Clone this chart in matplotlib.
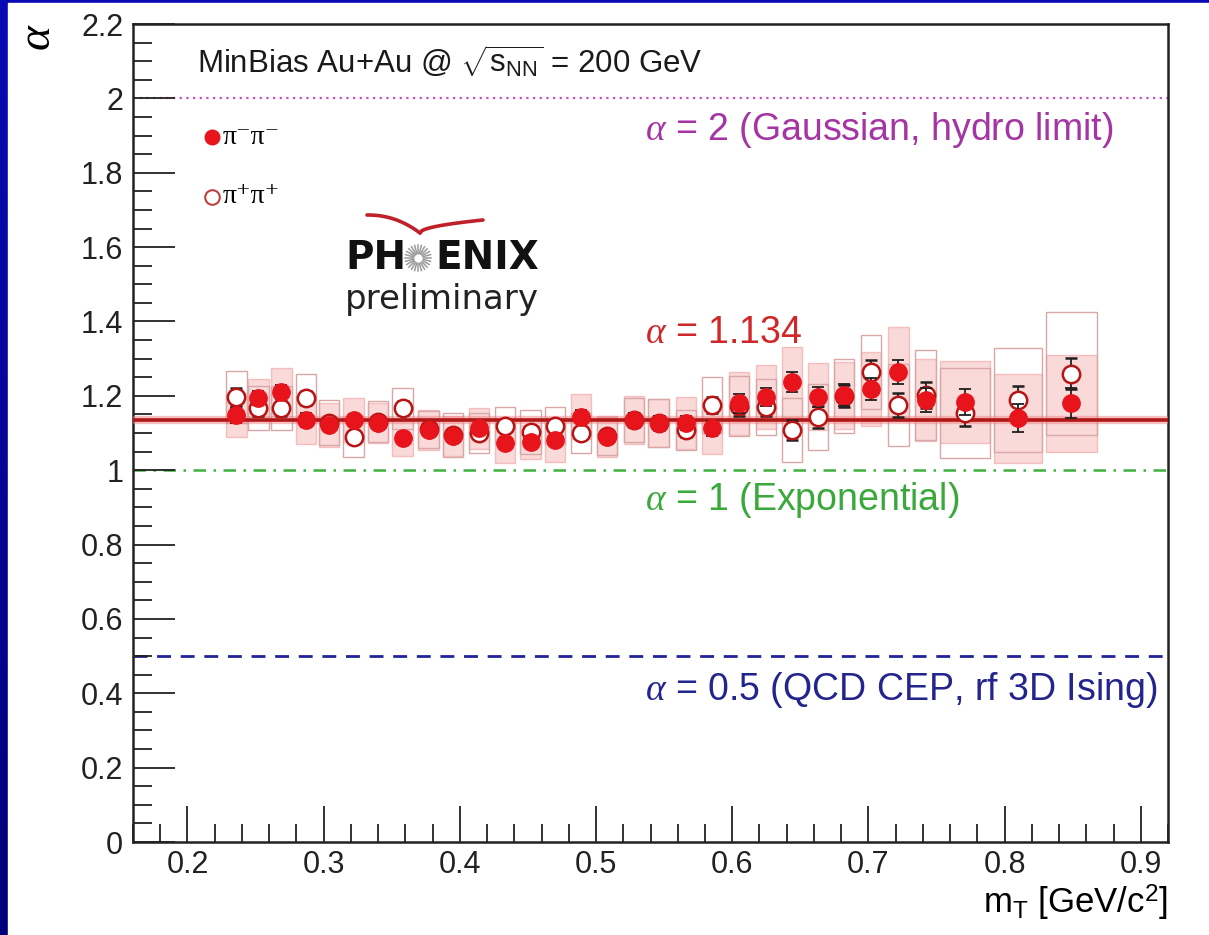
import numpy as np
import matplotlib.pyplot as plt
from matplotlib.patches import Rectangle
from matplotlib.colors import LinearSegmentedColormap
from matplotlib.ticker import MultipleLocator

# -------------------------------
# Data: Levy exponent alpha vs transverse mass
# -------------------------------
mt = [0.236, 0.252, 0.269, 0.287, 0.304, 0.322, 0.340, 0.358, 0.377, 0.395,
      0.414, 0.433, 0.452, 0.470, 0.489, 0.508, 0.528, 0.546, 0.566, 0.585,
      0.605, 0.625, 0.644, 0.663, 0.682, 0.702, 0.722, 0.742, 0.771, 0.810,
      0.849]

# pi- pi- (filled)
alpha_mm = [1.148, 1.194, 1.210, 1.135, 1.122, 1.135, 1.127, 1.087, 1.108, 1.092,
            1.113, 1.073, 1.076, 1.081, 1.144, 1.090, 1.135, 1.127, 1.127, 1.113,
            1.180, 1.197, 1.237, 1.197, 1.202, 1.218, 1.264, 1.189, 1.183, 1.140,
            1.180]
stat_mm = [0.020, 0.020, 0.018, 0.018, 0.015, 0.015, 0.015, 0.015, 0.015, 0.015,
           0.015, 0.015, 0.015, 0.015, 0.018, 0.015, 0.018, 0.018, 0.020, 0.020,
           0.025, 0.025, 0.028, 0.028, 0.030, 0.030, 0.032, 0.032, 0.035, 0.038,
           0.040]
sys_mm = [0.060, 0.050, 0.065, 0.065, 0.060, 0.060, 0.055, 0.050, 0.055, 0.055,
          0.055, 0.055, 0.045, 0.060, 0.060, 0.055, 0.065, 0.065, 0.070, 0.070,
          0.085, 0.085, 0.095, 0.090, 0.090, 0.100, 0.120, 0.110, 0.110, 0.120,
          0.130]

# pi+ pi+ (open)
alpha_pp = [1.197, 1.167, 1.167, 1.194, 1.128, 1.090, 1.130, 1.167, 1.110, 1.095,
            1.100, 1.120, 1.103, 1.120, 1.100, 1.092, 1.135, 1.127, 1.108, 1.175,
            1.172, 1.170, 1.108, 1.143, 1.200, 1.264, 1.175, 1.202, 1.154, 1.189,
            1.260]
stat_pp = [0.025, 0.020, 0.020, 0.020, 0.015, 0.015, 0.015, 0.018, 0.015, 0.015,
           0.015, 0.015, 0.015, 0.015, 0.015, 0.015, 0.018, 0.018, 0.020, 0.022,
           0.025, 0.025, 0.028, 0.030, 0.030, 0.032, 0.032, 0.035, 0.035, 0.038,
           0.043]
sys_pp = [0.070, 0.060, 0.060, 0.065, 0.060, 0.055, 0.055, 0.055, 0.050, 0.060,
          0.055, 0.050, 0.060, 0.050, 0.055, 0.050, 0.060, 0.065, 0.055, 0.075,
          0.080, 0.075, 0.085, 0.090, 0.100, 0.100, 0.110, 0.120, 0.120, 0.140,
          0.165]

# width of the systematic boxes (bin width)
box_width = [0.015] * 28 + [0.037, 0.035, 0.037]

alpha_fit = 1.134
ref_levels = [2.0, 1.0, 0.5]
ref_texts = ["= 2 (Gaussian, hydro limit)", "= 1 (Exponential)",
             "= 0.5 (QCD CEP, rf 3D Ising)"]

# -------------------------------
# Style
# -------------------------------
plt.rcParams['font.family'] = ['Liberation Sans', 'DejaVu Sans']
plt.rcParams['mathtext.fontset'] = 'custom'
plt.rcParams['mathtext.rm'] = 'Liberation Sans'
plt.rcParams['mathtext.it'] = 'Liberation Serif:italic'
plt.rcParams['mathtext.bf'] = 'Liberation Sans:bold'

W, H = 1209, 935
fig = plt.figure(figsize=(W / 100, H / 100), dpi=100)
fig.patch.set_facecolor('#0808a8')

# blue gradient frame + white slide panel
bg = fig.add_axes([0, 0, 1, 1], zorder=-10)
grad = np.linspace(1, 0, 256).reshape(-1, 1)
bg.imshow(grad, aspect='auto', extent=[0, 1, 0, 1],
          cmap=LinearSegmentedColormap.from_list('slide', ['#00007a', '#0a0ab4']))
bg.add_patch(Rectangle((8 / W, 0), 1, 1 - 3 / H, color='white', transform=bg.transAxes))
bg.set_xlim(0, 1)
bg.set_ylim(0, 1)
bg.axis('off')

ax = fig.add_axes([133 / W, 1 - 842 / H, (1168 - 133) / W, (842 - 24) / H])
ax.set_facecolor('none')
ax.set_xlim(0.16, 0.92)
ax.set_ylim(0, 2.2)

# reference lines
ax.axhline(2.0, color='#c050c0', lw=1.6, ls=(0, (1, 2)), zorder=1)
ax.axhline(1.0, color='#40b040', lw=1.8, ls=(0, (5, 3, 1, 3)), zorder=1)
ax.axhline(0.5, color='#22229a', lw=2.0, ls=(0, (5, 3.5)), zorder=1)

# systematic boxes
for x, w, y, s in zip(mt, box_width, alpha_mm, sys_mm):
    ax.add_patch(Rectangle((x - w / 2, y - s), w, 2 * s, facecolor='#f8c0c0',
                           edgecolor='#f0a0a0', alpha=0.6, lw=1.0, zorder=2))
for x, w, y, s in zip(mt, box_width, alpha_pp, sys_pp):
    ax.add_patch(Rectangle((x - w / 2, y - s), w, 2 * s, facecolor='none',
                           edgecolor='#d8a8a8', lw=1.0, zorder=2))

# fit result
ax.axhline(alpha_fit, color='#f08080', lw=6, alpha=0.5, zorder=3)
ax.axhline(alpha_fit, color='#b01818', lw=2.6, zorder=3)

# data points with statistical errors
ax.errorbar(mt, alpha_pp, yerr=stat_pp, fmt='o', ms=12.5, mfc='white', mec='#b81414',
            mew=1.8, ecolor='#202020', elinewidth=1.3, capsize=4, capthick=1.3, zorder=4)
ax.errorbar(mt, alpha_mm, yerr=stat_mm, fmt='o', ms=12.5, mfc='#e8141c', mec='#e8141c',
            ecolor='#202020', elinewidth=1.3, capsize=4, capthick=1.3, zorder=5)

# axes styling (ROOT-like)
for side in ['left', 'bottom', 'right', 'top']:
    ax.spines[side].set_linewidth(1.8)
    ax.spines[side].set_color('#222222')
ax.xaxis.set_major_locator(MultipleLocator(0.1))
ax.xaxis.set_minor_locator(MultipleLocator(0.02))
ax.yaxis.set_major_locator(MultipleLocator(0.2))
ax.yaxis.set_minor_locator(MultipleLocator(0.05))
ax.tick_params(which='both', direction='in', top=False, right=False, colors='#222222')
ax.tick_params(axis='x', which='major', length=26, width=1.3, labelsize=22, pad=6)
ax.tick_params(axis='x', which='minor', length=13, width=1.3)
ax.tick_params(axis='y', which='major', length=30, width=1.3, labelsize=22, pad=7)
ax.tick_params(axis='y', which='minor', length=14, width=1.3)
ax.xaxis.set_major_formatter(plt.FuncFormatter(lambda v, p: f"{v:g}"))
ax.yaxis.set_major_formatter(plt.FuncFormatter(lambda v, p: f"{v:g}"))

ax.set_xlabel(r'm$_{\mathrm{T}}$ [GeV/c$^{2}$]', fontsize=25, loc='right', labelpad=2)
fig.text(38 / W, 1 - 37 / H, r'$\alpha$', rotation=90, fontsize=34,
         ha='center', va='center')

# annotations
ax.text(0.2073, 2.098, r'MinBias Au+Au @ $\sqrt{\mathrm{s}_{\mathrm{NN}}}$ = 200 GeV',
        fontsize=22.5, ha='left', va='center', color='#1a1a1a')
ref_colors = ['#a535a5', '#3aa83a', '#24248e']
ref_y = [1.915, 0.920, 0.409]
for lvl, txt, col, ty in zip(ref_levels, ref_texts, ref_colors, ref_y):
    ax.text(0.536, ty, r'$\alpha$ ' + txt, color=col, fontsize=27, ha='left', va='center')
ax.text(0.536, 1.369, r'$\alpha$ = ' + f"{alpha_fit:.3f}", color='#d02828', fontsize=27,
        ha='left', va='center')

# legend
ax.plot([0.2183], [1.896], 'o', ms=10.5, color='#e8141c')
ax.plot([0.2183], [1.735], 'o', ms=10.5, mfc='white', mec='#c04040', mew=1.5)
ax.text(0.2257, 1.896, 'π⁻π⁻', family=['Liberation Serif', 'DejaVu Serif'], fontsize=20,
        va='center', ha='left')
ax.text(0.2257, 1.735, 'π⁺π⁺', family=['Liberation Serif', 'DejaVu Serif'], fontsize=20,
        va='center', ha='left')

# PHENIX preliminary logo (drawn in pixel-like units)
lg = fig.add_axes([330 / W, 1 - 325 / H, 230 / W, 120 / H])
lg.set_xlim(330, 560)
lg.set_ylim(325, 205)
lg.axis('off')
lg.text(345, 258, 'PH', fontsize=28, fontweight='bold', family='DejaVu Sans',
        ha='left', va='center', color='#111111')
lg.text(435, 258, 'ENIX', fontsize=28, fontweight='bold', family='DejaVu Sans',
        ha='left', va='center', color='#111111')
for ang in np.linspace(0, np.pi, 12, endpoint=False):
    dx, dy = 13 * np.cos(ang), 13 * np.sin(ang)
    lg.plot([418 - dx, 418 + dx], [258 - dy, 258 + dy], color='#9a9a9a', lw=1.1)
lg.plot([418], [258], 'o', ms=5, color='white', zorder=5)
t = np.linspace(0, 1, 40)
lg.plot(367 + 53 * t, 215 + 18 * t ** 2.2, color='#c0202a', lw=2.6, solid_capstyle='round')
lg.plot(420 + 63 * t, 233 - 13 * np.sqrt(t), color='#c0202a', lw=2.6, solid_capstyle='round')
lg.text(345, 299, 'preliminary', fontsize=24.5, family='DejaVu Sans', ha='left',
        va='center', color='#222222')

fig.savefig('out.png', dpi=100, facecolor=fig.get_facecolor())
